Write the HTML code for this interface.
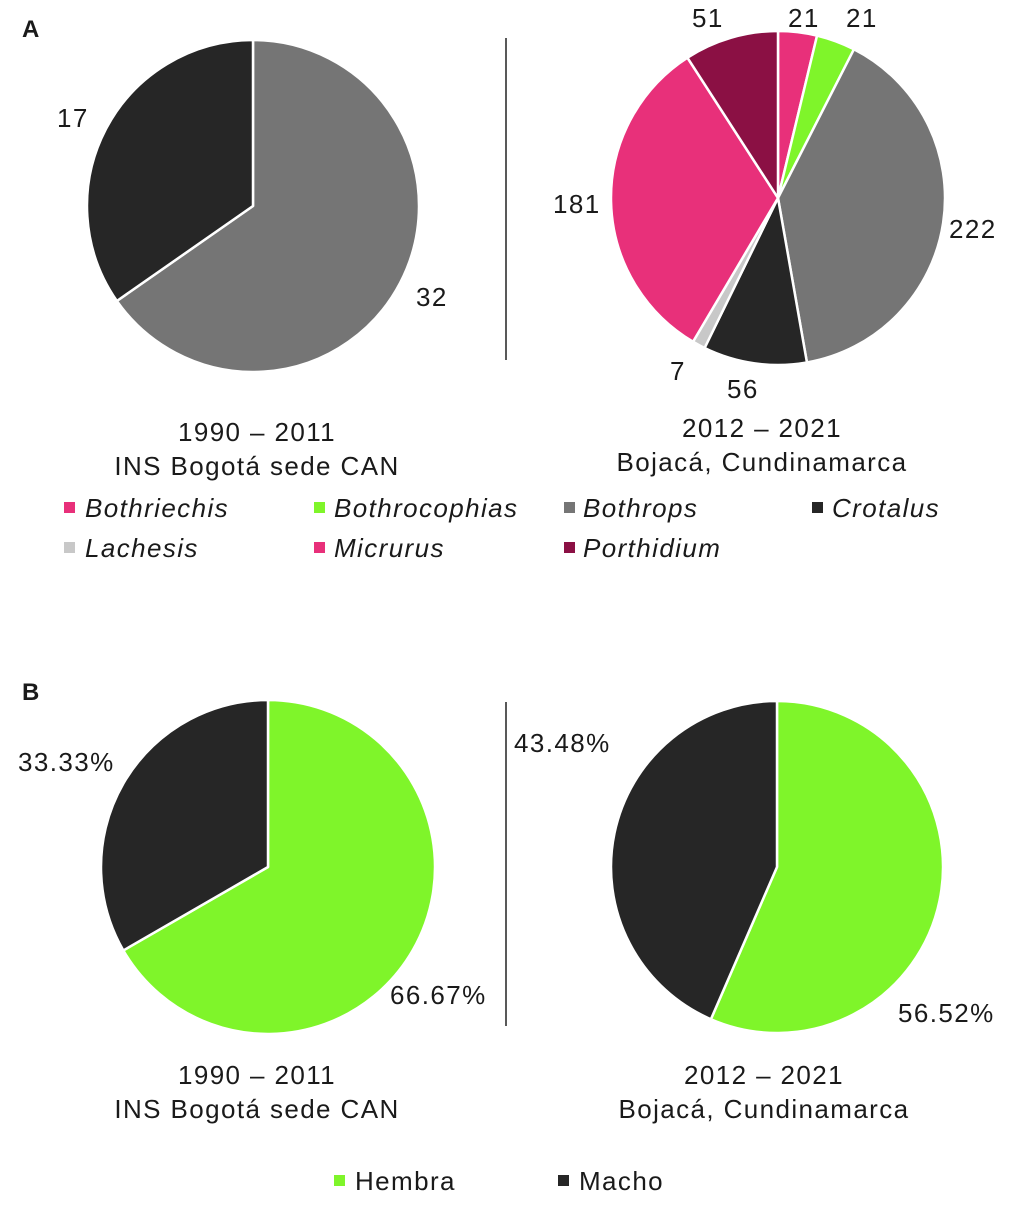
<!DOCTYPE html>
<html><head><meta charset="utf-8"><style>
body{margin:0;background:#fff}
svg{display:block}
text{font-family:"Liberation Sans",sans-serif;font-size:26px;fill:#1a1a1a;letter-spacing:1.4px}
.it{font-style:italic}
.b{font-weight:bold;font-size:24px;letter-spacing:0}
</style></head><body>
<svg id="s" width="1024" height="1212" viewBox="0 0 1024 1212">
<text x="22" y="37" class="b">A</text>
<text x="22" y="700" class="b">B</text>
<line x1="506" y1="38" x2="506" y2="360" stroke="#222" stroke-width="1.5"/>
<line x1="506" y1="702" x2="506" y2="1026" stroke="#222" stroke-width="1.5"/>
<g id="pies"></g>
<text x="57" y="127">17</text>
<text x="416" y="306">32</text>
<text x="692" y="27">51</text>
<text x="788" y="27">21</text>
<text x="846" y="27">21</text>
<text x="949" y="238">222</text>
<text x="553" y="213">181</text>
<text x="670" y="380">7</text>
<text x="727" y="398">56</text>
<text x="257" y="441" text-anchor="middle">1990 – 2011</text>
<text x="257" y="475" text-anchor="middle">INS Bogotá sede CAN</text>
<text x="762" y="437" text-anchor="middle">2012 – 2021</text>
<text x="762" y="471" text-anchor="middle">Bojacá, Cundinamarca</text>
<rect x="64" y="502" width="11" height="11" fill="#e8307a"/><text x="85" y="517" class="it">Bothriechis</text>
<rect x="314" y="502" width="11" height="11" fill="#7ff52a"/><text x="334" y="517" class="it">Bothrocophias</text>
<rect x="564" y="502" width="11" height="11" fill="#757575"/><text x="583" y="517" class="it">Bothrops</text>
<rect x="812" y="502" width="11" height="11" fill="#262626"/><text x="832" y="517" class="it">Crotalus</text>
<rect x="64" y="542" width="11" height="11" fill="#c8c8c8"/><text x="85" y="557" class="it">Lachesis</text>
<rect x="314" y="542" width="11" height="11" fill="#e8307a"/><text x="334" y="557" class="it">Micrurus</text>
<rect x="564" y="542" width="11" height="11" fill="#8b1044"/><text x="583" y="557" class="it">Porthidium</text>
<text x="18" y="771">33.33%</text>
<text x="390" y="1004">66.67%</text>
<text x="514" y="752">43.48%</text>
<text x="898" y="1022">56.52%</text>
<text x="257" y="1084" text-anchor="middle">1990 – 2011</text>
<text x="257" y="1118" text-anchor="middle">INS Bogotá sede CAN</text>
<text x="764" y="1084" text-anchor="middle">2012 – 2021</text>
<text x="764" y="1118" text-anchor="middle">Bojacá, Cundinamarca</text>
<rect x="334" y="1175" width="11" height="11" fill="#7ff52a"/><text x="355" y="1190">Hembra</text>
<rect x="558" y="1175" width="11" height="11" fill="#262626"/><text x="579" y="1190">Macho</text>
</svg>
<script>
function pie(cx,cy,r,vals,cols){
  var t=vals.reduce((a,b)=>a+b,0),a=0,out="";
  vals.forEach(function(v,i){
    var a0=a/t*2*Math.PI,a1=(a+v)/t*2*Math.PI;a+=v;
    var x0=cx+r*Math.sin(a0),y0=cy-r*Math.cos(a0),x1=cx+r*Math.sin(a1),y1=cy-r*Math.cos(a1);
    var lg=(a1-a0)>Math.PI?1:0;
    out+='<path d="M'+cx+','+cy+' L'+x0+','+y0+' A'+r+','+r+' 0 '+lg+' 1 '+x1+','+y1+' Z" fill="'+cols[i]+'" stroke="#fff" stroke-width="2.5" stroke-linejoin="round"/>';
  });
  return out;
}
var g="";
g+=pie(253,206,166,[32,17],["#757575","#262626"]);
g+=pie(778,198,167,[21,21,222,56,7,181,51],["#e8307a","#7ff52a","#757575","#262626","#c8c8c8","#e8307a","#8b1044"]);
g+=pie(268,867,167,[66.67,33.33],["#7ff52a","#262626"]);
g+=pie(777,867,166,[56.52,43.48],["#7ff52a","#262626"]);
document.getElementById("pies").innerHTML=g;
</script>
</body></html>
